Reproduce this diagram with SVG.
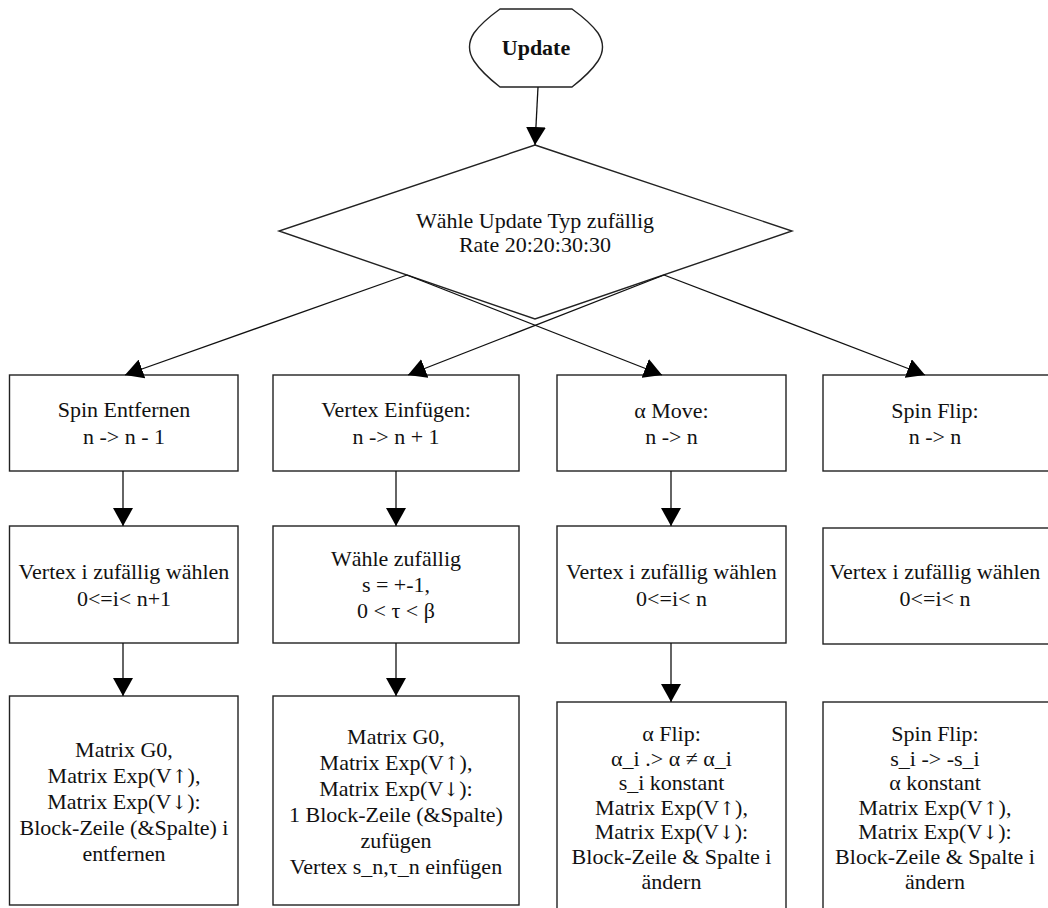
<svg xmlns="http://www.w3.org/2000/svg" width="1048" height="908" viewBox="0 0 1048 908">
  <style>
    .shape { fill: #fff; stroke: #222; stroke-width: 1.4; }
    .edge { fill: none; stroke: #111; stroke-width: 1.3; }
    text { font-family: "Liberation Serif", "Times New Roman", serif; font-size: 22px; fill: #111; text-anchor: middle; }
    .bold { font-weight: bold; }
    .sym { font-family: "DejaVu Serif", "Liberation Serif", serif; font-size: 19px; }
  </style>
  <defs>
    <marker id="arrow" markerUnits="userSpaceOnUse" markerWidth="20" markerHeight="20" refX="18" refY="10" orient="auto">
      <path d="M0,0 L18,10 L0,20 Z" fill="#000"/>
    </marker>
  </defs>

  <!-- start node -->
  <g id="update">
    <path class="shape" d="M500,9 L572,9 Q590,22 598,33 Q607,47 598,61 Q590,73 572,87 L500,87 Q482,73 474,61 Q465,47 474,33 Q482,22 500,9 Z"/>
    <text class="bold" x="536" y="55">Update</text>
  </g>

  <!-- decision -->
  <g id="choose">
    <path class="shape" d="M535,145 L792,231 L535,319 L279,231 Z"/>
    <text x="535" y="228">Wähle Update Typ zufällig</text>
    <text x="535" y="252">Rate 20:20:30:30</text>
  </g>

  <!-- row 1: update types -->
  <g id="spin-remove">
    <rect class="shape" x="9.5" y="375" width="228.5" height="96"/>
    <text x="124" y="417">Spin Entfernen</text>
    <text x="124" y="444">n -&gt; n - 1</text>
  </g>
  <g id="vertex-insert">
    <rect class="shape" x="273" y="375" width="246" height="96"/>
    <text x="396" y="417">Vertex Einfügen:</text>
    <text x="396" y="444">n -&gt; n + 1</text>
  </g>
  <g id="alpha-move">
    <rect class="shape" x="557" y="375" width="229" height="96"/>
    <text x="671.5" y="418">α Move:</text>
    <text x="671.5" y="444">n -&gt; n</text>
  </g>
  <g id="spin-flip">
    <rect class="shape" x="823" y="375" width="227" height="96"/>
    <text x="935" y="418">Spin Flip:</text>
    <text x="935" y="444">n -&gt; n</text>
  </g>

  <!-- row 2: selection -->
  <g id="select-1">
    <rect class="shape" x="9.5" y="526" width="228.5" height="117"/>
    <text x="124" y="579">Vertex i zufällig wählen</text>
    <text x="124" y="606">0&lt;=i&lt; n+1</text>
  </g>
  <g id="select-2">
    <rect class="shape" x="273" y="526" width="246" height="117"/>
    <text x="396" y="566">Wähle zufällig</text>
    <text x="396" y="592">s = +-1,</text>
    <text x="396" y="618">0 &lt; τ &lt; β</text>
  </g>
  <g id="select-3">
    <rect class="shape" x="557" y="526" width="229" height="117"/>
    <text x="671.5" y="579">Vertex i zufällig wählen</text>
    <text x="671.5" y="606">0&lt;=i&lt; n</text>
  </g>
  <g id="select-4">
    <rect class="shape" x="823" y="528" width="227" height="116"/>
    <text x="935" y="579">Vertex i zufällig wählen</text>
    <text x="935" y="606">0&lt;=i&lt; n</text>
  </g>

  <!-- row 3: matrix updates -->
  <g id="matrix-1">
    <rect class="shape" x="9.5" y="696" width="228.5" height="209"/>
    <text x="124" y="757">Matrix G0,</text>
    <text x="124" y="783">Matrix Exp(V<tspan class="sym">↑</tspan>),</text>
    <text x="124" y="809">Matrix Exp(V<tspan class="sym">↓</tspan>):</text>
    <text x="124" y="835">Block-Zeile (&amp;Spalte) i</text>
    <text x="124" y="861">entfernen</text>
  </g>
  <g id="matrix-2">
    <rect class="shape" x="273" y="696" width="246" height="209"/>
    <text x="396" y="744">Matrix G0,</text>
    <text x="396" y="770">Matrix Exp(V<tspan class="sym">↑</tspan>),</text>
    <text x="396" y="796">Matrix Exp(V<tspan class="sym">↓</tspan>):</text>
    <text x="396" y="822">1 Block-Zeile (&amp;Spalte)</text>
    <text x="396" y="848">zufügen</text>
    <text x="396" y="874">Vertex s_n,τ_n einfügen</text>
  </g>
  <g id="matrix-3">
    <rect class="shape" x="557" y="702" width="229" height="215"/>
    <text x="671.5" y="741">α Flip:</text>
    <text x="671.5" y="766">α_i .&gt; α ≠ α_i</text>
    <text x="671.5" y="790">s_i konstant</text>
    <text x="671.5" y="815">Matrix Exp(V<tspan class="sym">↑</tspan>),</text>
    <text x="671.5" y="839">Matrix Exp(V<tspan class="sym">↓</tspan>):</text>
    <text x="671.5" y="864">Block-Zeile &amp; Spalte i</text>
    <text x="671.5" y="889">ändern</text>
  </g>
  <g id="matrix-4">
    <rect class="shape" x="823" y="702" width="227" height="215"/>
    <text x="935" y="741">Spin Flip:</text>
    <text x="935" y="766">s_i -&gt; -s_i</text>
    <text x="935" y="790">α konstant</text>
    <text x="935" y="815">Matrix Exp(V<tspan class="sym">↑</tspan>),</text>
    <text x="935" y="839">Matrix Exp(V<tspan class="sym">↓</tspan>):</text>
    <text x="935" y="864">Block-Zeile &amp; Spalte i</text>
    <text x="935" y="889">ändern</text>
  </g>

  <!-- connectors -->
  <g id="connectors">
    <line class="edge" x1="538" y1="87" x2="535" y2="145" marker-end="url(#arrow)"/>
    <line class="edge" x1="407" y1="275" x2="125" y2="375" marker-end="url(#arrow)"/>
    <line class="edge" x1="664" y1="275" x2="408" y2="375" marker-end="url(#arrow)"/>
    <line class="edge" x1="407" y1="275" x2="662" y2="375" marker-end="url(#arrow)"/>
    <line class="edge" x1="664" y1="275" x2="925" y2="375" marker-end="url(#arrow)"/>
    <line class="edge" x1="123" y1="471" x2="123" y2="526" marker-end="url(#arrow)"/>
    <line class="edge" x1="396" y1="471" x2="396" y2="526" marker-end="url(#arrow)"/>
    <line class="edge" x1="671" y1="471" x2="671" y2="526" marker-end="url(#arrow)"/>
    <line class="edge" x1="123" y1="643" x2="123" y2="696" marker-end="url(#arrow)"/>
    <line class="edge" x1="396" y1="643" x2="396" y2="696" marker-end="url(#arrow)"/>
    <line class="edge" x1="671" y1="643" x2="671" y2="702" marker-end="url(#arrow)"/>
  </g>
</svg>
